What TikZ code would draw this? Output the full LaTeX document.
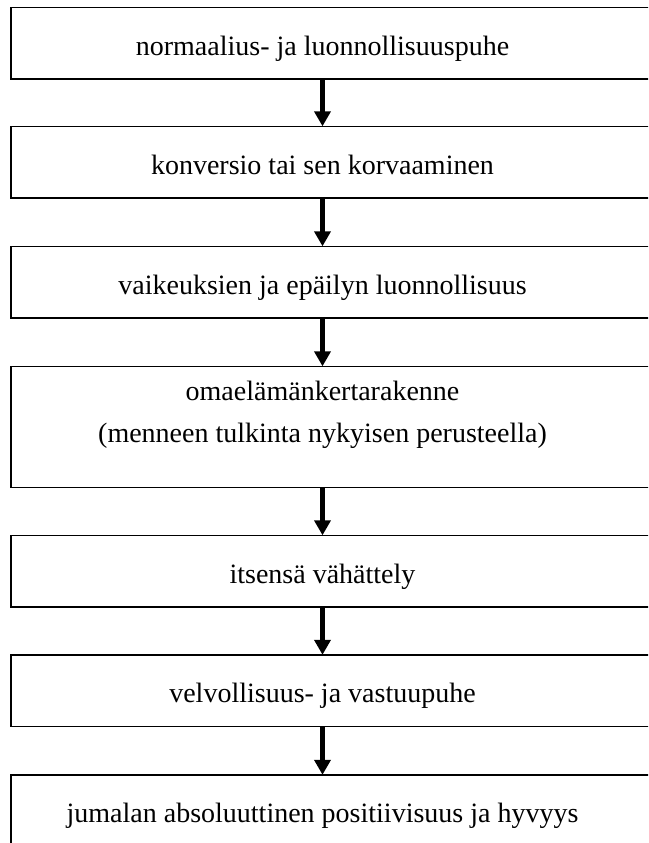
\documentclass[tikz,border=0pt]{standalone}
\usepackage{fontspec}
\setmainfont{Liberation Serif}
\usetikzlibrary{arrows.meta}

\tikzset{
  stage/.style={draw=none, inner sep=0pt, minimum width=623pt},
  single/.style={stage, minimum height=71.5pt},
  double/.style={stage, minimum height=121pt},
  frame/.style={draw=black, line width=1.5pt},
  caption/.style={inner sep=0pt, font=\fontsize{28pt}{42pt}\selectfont, align=center},
  flow/.style={line width=4.5pt, -{Triangle[width=16pt,length=15pt]}},
}

\begin{document}
\begin{tikzpicture}[x=1pt, y=-1pt]
  \useasboundingbox (0,0) rectangle (648,843);
  \clip (0,0) rectangle (648,843);

  % the boxes run past the right-hand edge of the page
  \coordinate (far) at (700,0);

  % stage boxes (top edge + half height)
  \node[single] (b1) at (322.5, 43.25)  {};
  \node[single] (b2) at (322.5, 162.25) {};
  \node[single] (b3) at (322.5, 282.25) {};
  \node[double] (b4) at (322.5, 427)    {};
  \node[single] (b5) at (322.5, 571.25) {};
  \node[single] (b6) at (322.5, 690.75) {};
  \node[single] (b7) at (322.5, 810.75) {};

  \foreach \b in {b1,b2,b3,b4,b5,b6,b7}
    \draw[frame] (\b.north west) rectangle (\b.south -| far);

  % labels, set on a baseline 48pt below each box's top edge
  \node[caption, anchor=base] (t1) at ([yshift=-48pt]b1.north) {normaalius- ja luonnollisuuspuhe};
  \node[caption, anchor=base] (t2) at ([yshift=-48pt]b2.north) {konversio tai sen korvaaminen};
  \node[caption, anchor=base] (t3) at ([yshift=-48pt]b3.north) {vaikeuksien ja epäilyn luonnollisuus};
  \node[caption] (t4) at (322.5, 414.5) {omaelämänkertarakenne\\(menneen tulkinta nykyisen perusteella)};
  \node[caption, anchor=base] (t5) at ([yshift=-48pt]b5.north) {itsensä vähättely};
  \node[caption, anchor=base] (t6) at ([yshift=-48pt]b6.north) {velvollisuus- ja vastuupuhe};
  \node[caption, anchor=base] (t7) at ([yshift=-48pt]b7.north) {jumalan absoluuttinen positiivisuus ja hyvyys};

  % connectors
  \draw[flow] (b1.south) -- (b2.north);
  \draw[flow] (b2.south) -- (b3.north);
  \draw[flow] (b3.south) -- (b4.north);
  \draw[flow] (b4.south) -- (b5.north);
  \draw[flow] (b5.south) -- (b6.north);
  \draw[flow] (b6.south) -- (b7.north);
\end{tikzpicture}
\end{document}
